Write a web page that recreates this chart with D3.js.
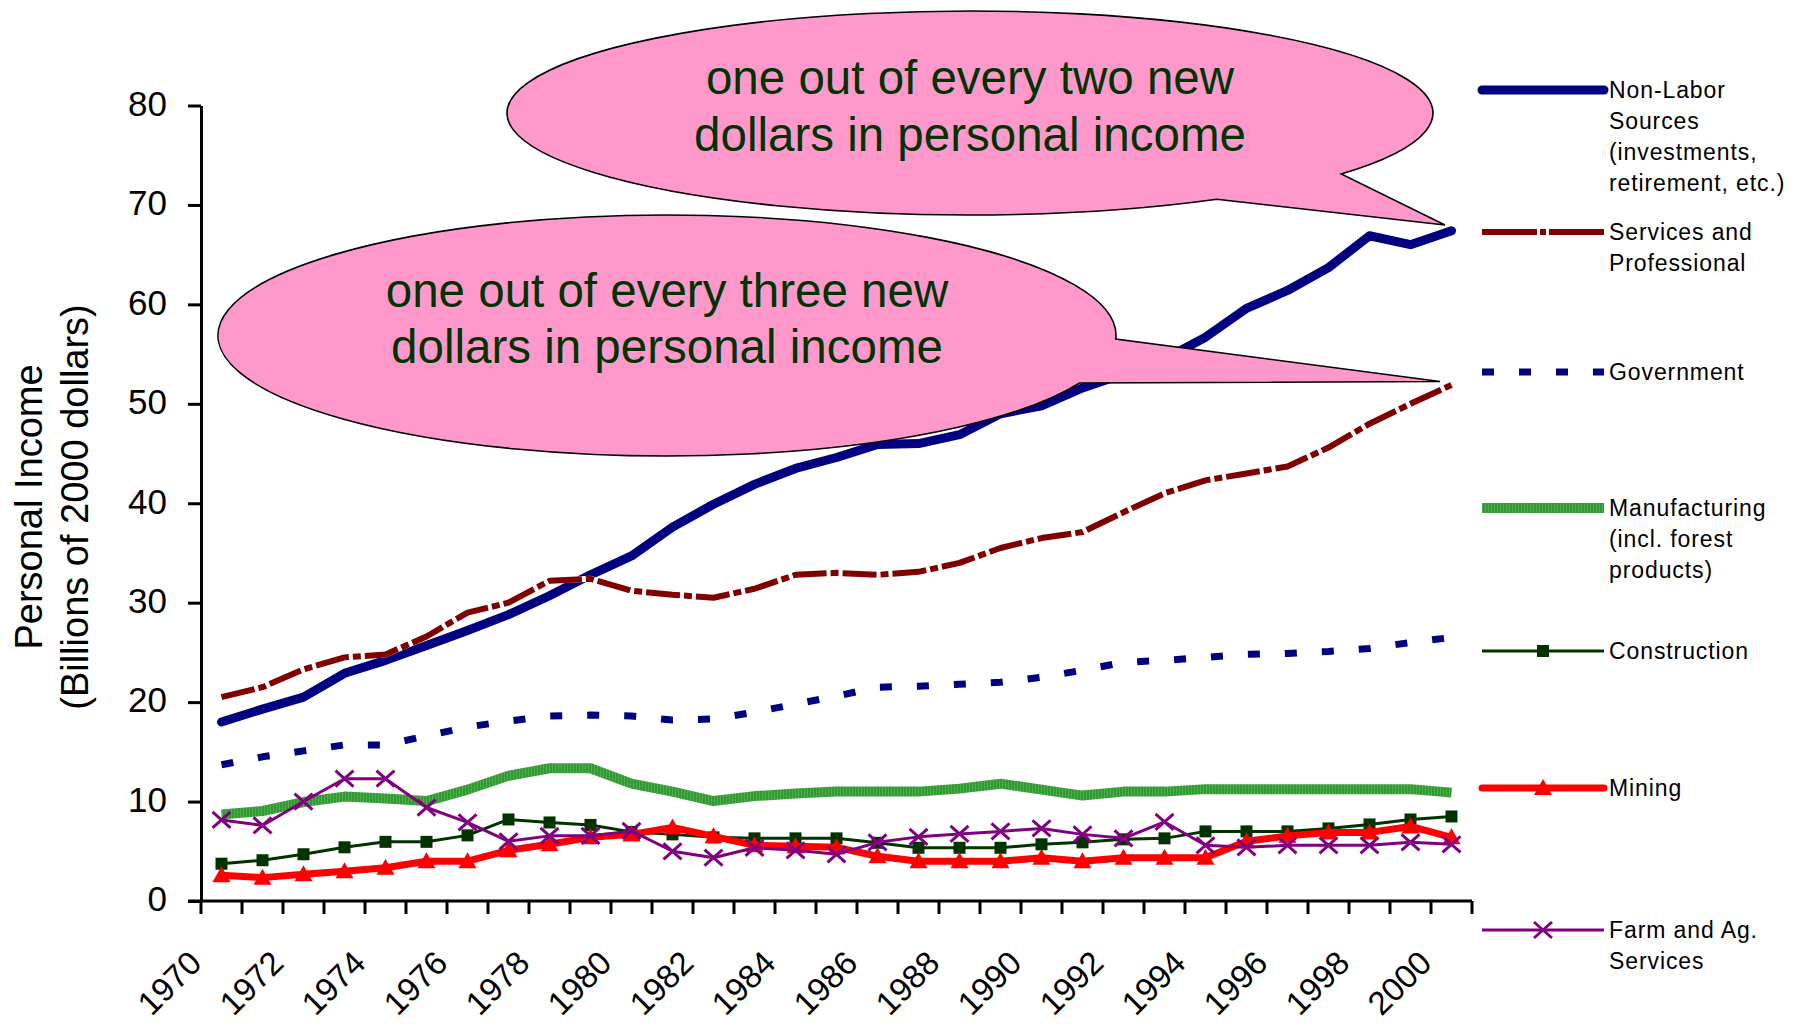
<!DOCTYPE html>
<html>
<head>
<meta charset="utf-8">
<script src="https://cdn.jsdelivr.net/npm/d3@7"></script>
<style>
  html, body { margin: 0; padding: 0; background: #ffffff; }
  svg { display: block; }
  text { font-family: "Liberation Sans", Arial, sans-serif; }
</style>
</head>
<body>
<svg id="chart" width="1795" height="1028"></svg>
<script>
// ---------------- DATA ----------------
const years = [1970,1971,1972,1973,1974,1975,1976,1977,1978,1979,1980,1981,1982,1983,1984,1985,
               1986,1987,1988,1989,1990,1991,1992,1993,1994,1995,1996,1997,1998,1999,2000];
const yearLabels = [1970,1972,1974,1976,1978,1980,1982,1984,1986,1988,1990,1992,1994,1996,1998,2000];
const yTicks = [0,10,20,30,40,50,60,70,80];

const nonLabor = [18.0,19.3,20.5,22.9,24.2,25.7,27.2,28.8,30.7,32.8,34.7,37.6,39.9,41.9,43.5,44.6,
                  45.9,46.0,46.9,49.0,49.8,51.6,53.0,54.5,56.7,59.6,61.4,63.7,66.9,66.0,67.4];
const services = [20.5,21.5,23.3,24.5,24.8,26.6,29.0,30.0,32.2,32.4,31.2,30.8,30.5,31.4,32.8,33.0,
                  32.8,33.1,34.0,35.5,36.5,37.1,39.1,41.0,42.3,43.0,43.7,45.6,48.0,50.0,51.9];
const government = [13.7,14.5,15.1,15.7,15.7,16.6,17.5,18.1,18.6,18.7,18.6,18.2,18.3,19.0,19.8,20.6,
                    21.5,21.6,21.8,22.0,22.5,23.2,24.0,24.2,24.5,24.8,24.9,25.1,25.4,26.0,26.5];
const manufacturing = [8.7,9.05,9.95,10.5,10.3,10.05,11.2,12.6,13.35,13.35,11.8,11.0,10.05,10.55,10.8,11.0,
                       11.0,11.0,11.3,11.8,11.2,10.6,11.0,11.0,11.25,11.25,11.25,11.25,11.25,11.25,10.9];
const construction = [3.75,4.1,4.7,5.4,5.95,5.95,6.6,8.2,7.9,7.65,6.95,6.7,6.4,6.3,6.3,6.3,
                      5.85,5.35,5.35,5.35,5.7,5.9,6.2,6.3,7.0,7.0,7.0,7.3,7.7,8.2,8.5];
const mining = [2.6,2.35,2.7,3.0,3.35,4.0,4.0,5.1,5.7,6.4,6.7,7.4,6.5,5.6,5.5,5.4,
                4.5,4.0,4.0,4.0,4.35,4.0,4.35,4.35,4.35,6.0,6.55,6.9,6.9,7.5,6.4];
const farm = [8.15,7.6,10.0,12.3,12.3,9.4,7.9,6.0,6.55,6.55,7.05,5.0,4.35,5.35,5.1,4.7,
              5.9,6.45,6.75,7.0,7.3,6.7,6.3,7.95,5.6,5.4,5.6,5.6,5.6,5.9,5.7];

const seriesNames = [
  ["Non-Labor","Sources","(investments,","retirement, etc.)"],
  ["Services and","Professional"],
  ["Government"],
  ["Manufacturing","(incl. forest","products)"],
  ["Construction"],
  ["Mining"],
  ["Farm and Ag.","Services"]
];
const yTitle = ["Personal Income", "(Billions of 2000 dollars)"];
const callout1Text = ["one out of every two new", "dollars in personal income"];
const callout2Text = ["one out of every three new", "dollars in personal income"];

// ---------------- STYLES / LAYOUT ----------------
const styles = [
  { values: nonLabor,      color: "#000080", width: 9,  dash: null,        legendDash: null,        cap: "round", marker: null },
  { values: services,      color: "#800000", width: 6,  dash: "34,4,8,4",  legendDash: "55,3,6,3",  cap: "butt",  marker: null, underlay: true },
  { values: government,    color: "#000080", width: 7,  dash: "12,25",     legendDash: "12,25",     cap: "butt",  marker: null },
  { values: manufacturing, color: "url(#mfg)", width: 10, dash: null,      legendDash: null,        cap: "butt",  marker: null },
  { values: construction,  color: "#003300", width: 3,  dash: null,        legendDash: null,        cap: "butt",  marker: "square" },
  { values: mining,        color: "#ff0000", width: 7,  dash: null,        legendDash: null,        cap: "round", marker: "triangle" },
  { values: farm,          color: "#800080", width: 3,  dash: null,        legendDash: null,        cap: "butt",  marker: "x" }
];
const markerColors = { square: "#003300", triangle: "#ff0000", x: "#800080" };
const legendY = [90, 232, 372, 508, 651, 788, 930];

const svg = d3.select("#chart");
const defs = svg.append("defs");
const pat = defs.append("pattern").attr("id","mfg").attr("patternUnits","userSpaceOnUse")
  .attr("width",3).attr("height",3);
pat.append("rect").attr("width",3).attr("height",3).attr("fill","#339933");
pat.append("rect").attr("width",1).attr("height",3).attr("fill","#4cae4c");

const x = d3.scaleBand().domain(years).range([201, 1472]).paddingInner(0).paddingOuter(0);
const cx = d => x(d) + x.bandwidth() / 2;
const y = d3.scaleLinear().domain([0, 80]).range([901, 105.5]);

// ---------------- AXES ----------------
const yAxis = d3.axisLeft(y).tickValues(yTicks).tickSize(13).tickSizeOuter(0).tickPadding(21);
const gy = svg.append("g").attr("transform", "translate(201,0)").call(yAxis);
gy.select(".domain").attr("stroke", "#000").attr("stroke-width", 3);
gy.selectAll(".tick line").attr("stroke", "#000").attr("stroke-width", 3);
gy.selectAll(".tick text").attr("font-size", 35).attr("fill", "#000")
  .attr("font-family", "'Liberation Sans', Arial, sans-serif").attr("dy", "0.28em");

// x axis line
svg.append("line").attr("x1", 188).attr("x2", x.range()[1]).attr("y1", y(0)).attr("y2", y(0))
  .attr("stroke", "#000").attr("stroke-width", 3);
// x ticks at category boundaries
const boundaries = years.map(d => x(d)).concat([x(years[years.length-1]) + x.bandwidth()]);
svg.append("g").selectAll("line").data(boundaries).join("line")
  .attr("x1", d => d).attr("x2", d => d).attr("y1", y(0)).attr("y2", y(0) + 13)
  .attr("stroke", "#000").attr("stroke-width", 3);
// x labels
svg.append("g").selectAll("text").data(yearLabels).join("text")
  .attr("transform", d => `translate(${cx(d) - 18},965) rotate(-45)`)
  .attr("text-anchor", "end").attr("font-size", 33).attr("fill", "#000")
  .text(d => d);

// y title
svg.append("g").selectAll("text").data(yTitle).join("text")
  .attr("transform", (d, i) => `translate(${41.7 + i * 46.6},507) rotate(-90)`)
  .attr("text-anchor", "middle").attr("font-size", 38).attr("fill", "#000")
  .text(d => d);

// ---------------- SERIES ----------------
const line = d3.line().x((d, i) => cx(years[i])).y(d => y(d));

function drawMarker(g, type, px, py) {
  const c = markerColors[type];
  if (type === "square") {
    g.append("rect").attr("x", px - 6).attr("y", py - 6).attr("width", 12).attr("height", 12).attr("fill", c);
  } else if (type === "triangle") {
    g.append("path").attr("d", `M${px},${py - 9}L${px + 9},${py + 7}L${px - 9},${py + 7}Z`).attr("fill", c);
  } else if (type === "x") {
    g.append("path").attr("d", `M${px - 9},${py - 8}L${px + 9},${py + 8}M${px - 9},${py + 8}L${px + 9},${py - 8}`)
      .attr("stroke", c).attr("stroke-width", 3).attr("fill", "none");
  }
}

const gSeries = svg.append("g");
styles.forEach(s => {
  if (s.underlay) {
    gSeries.append("path").datum(s.values).attr("d", line).attr("fill", "none")
      .attr("stroke", "#ffffff").attr("stroke-width", s.width).attr("stroke-linejoin", "round");
  }
  gSeries.append("path").datum(s.values).attr("d", line)
    .attr("fill", "none").attr("stroke", s.color).attr("stroke-width", s.width)
    .attr("stroke-linejoin", "round").attr("stroke-linecap", s.cap)
    .attr("stroke-dasharray", s.dash);
  if (s.marker) {
    const gm = gSeries.append("g");
    s.values.forEach((v, i) => drawMarker(gm, s.marker, cx(years[i]), y(v)));
  }
});

// ---------------- LEGEND ----------------
const gLeg = svg.append("g");
styles.forEach((s, k) => {
  const ly = legendY[k];
  gLeg.append("line").attr("x1", 1482).attr("x2", 1604).attr("y1", ly).attr("y2", ly)
    .attr("stroke", s.color).attr("stroke-width", s.width)
    .attr("stroke-linecap", s.cap).attr("stroke-dasharray", s.legendDash);
  if (s.marker) drawMarker(gLeg, s.marker, 1543, ly);
  const t = gLeg.append("text").attr("x", 1609).attr("y", ly + 8.3)
    .attr("font-size", 23).attr("letter-spacing", 0.9).attr("fill", "#000");
  seriesNames[k].forEach((ln, j) => {
    t.append("tspan").attr("x", 1609).attr("dy", j === 0 ? 0 : 31).text(ln);
  });
});

// ---------------- CALLOUTS ----------------
function calloutPath(c) {
  const pt = a => [c.cx + c.rx * Math.cos(a * Math.PI / 180), c.cy + c.ry * Math.sin(a * Math.PI / 180)];
  const A = pt(c.a1), B = pt(c.a2);
  return `M${A[0]},${A[1]}L${c.tip[0]},${c.tip[1]}L${B[0]},${B[1]}` +
         `A${c.rx},${c.ry} 0 1 0 ${A[0]},${A[1]}Z`;
}
const callouts = [
  { cx: 970, cy: 113, rx: 463, ry: 102, a1: 57.8, a2: 36.7, tip: [1445, 225], text: callout1Text, ty: 94 },
  { cx: 667, cy: 335.5, rx: 449, ry: 120.5, a1: 23.2, a2: 1.7, tip: [1440, 381.5], text: callout2Text, ty: 306.7 }
];
const gCall = svg.append("g");
callouts.forEach(c => {
  gCall.append("path").attr("d", calloutPath(c)).attr("fill", "#ff99cc")
    .attr("stroke", "#000").attr("stroke-width", 1.6).attr("stroke-linejoin", "miter");
  gCall.append("g").selectAll("text").data(c.text).join("text")
    .attr("x", c.cx).attr("y", (d, i) => c.ty + i * 56.7)
    .attr("text-anchor", "middle").attr("font-size", 47.5).attr("fill", "#003300")
    .text(d => d);
});
</script>
</body>
</html>
